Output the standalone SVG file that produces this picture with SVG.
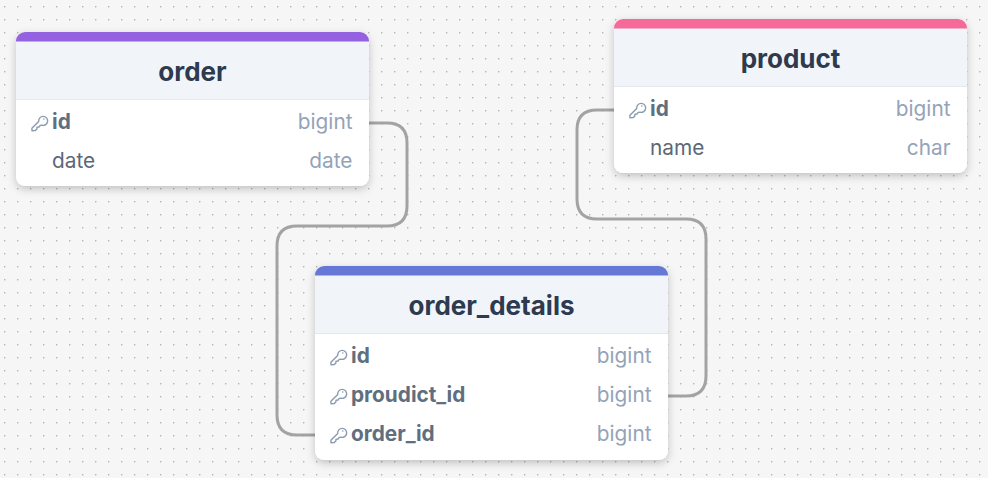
<svg xmlns="http://www.w3.org/2000/svg" width="988" height="478" viewBox="0 0 988 478">
<style>
text{font-family:Inter,"Liberation Sans",sans-serif}
.card{fill:#fff;filter:url(#sh)}
.head{fill:#f1f5f9}
.sep{stroke:#e2e8f0;stroke-width:1}
.title{font-size:26px;font-weight:700;fill:#2d3a50;text-anchor:middle}
.k{font-size:20.800px;font-weight:700;fill:#5f6f80}
.f{font-size:20.800px;fill:#5a6878}
.t{font-size:20.800px;fill:#94a3b8;text-anchor:end}
.conn{fill:none;stroke:#a3a3a3;stroke-width:3}
.key{fill:none;stroke:#8a9bae;stroke-width:1.400;stroke-linejoin:round}
</style>
<defs>
<pattern id="dots" x="4" y="6" width="13" height="13" patternUnits="userSpaceOnUse"><circle cx="0.7" cy="0.7" r="0.8" fill="#b4b4b4"/></pattern>
<filter id="sh" x="-10%" y="-10%" width="120%" height="125%"><feDropShadow dx="0" dy="3" stdDeviation="4" flood-color="#000" flood-opacity="0.22"/></filter>
<g id="key"><path class="key" d="M7.700 -0.600A4.500 4.500 0 1 1 11 3.200L9.200 3.400 8 5 6 5.200 5.800 7.200 4 8.600 1 8.700 0.900 6.200Z"/><circle cx="12.800" cy="-3" r="0.800" fill="#8a9bae"/></g>
<clipPath id="c1"><rect x="16" y="32" width="353" height="154" rx="9"/></clipPath>
<clipPath id="c2"><rect x="614" y="19" width="353" height="154" rx="9"/></clipPath>
<clipPath id="c3"><rect x="315" y="266" width="353" height="194" rx="9"/></clipPath>
</defs>
<rect width="988" height="478" fill="#f6f6f6"/>
<rect width="988" height="478" fill="url(#dots)"/>
<g id="connectors">
<path class="conn" d="M369 123H387Q407 123 407 143V206Q407 226 387 226H297Q277 226 277 246V415Q277 435 297 435H315"/>
<path class="conn" d="M614 110H597Q577 110 577 130V199Q577 219 597 219H686Q706 219 706 239V376Q706 396 686 396H668"/>
</g>
<g id="node-order">
<rect class="card" x="16" y="32" width="353" height="154" rx="9"/>
<g clip-path="url(#c1)"><rect class="head" x="16" y="41" width="353" height="58"/><rect x="16" y="32" width="353" height="9.500" fill="#9461e0"/></g>
<path class="sep" d="M16 99.500H369"/>
<text class="title" x="192.500" y="81">order</text>
<use href="#key" x="31" y="122"/>
<text class="k" x="52" y="129">id</text><text class="t" x="352.500" y="129">bigint</text>
<text class="f" x="52" y="168">date</text><text class="t" x="352.500" y="168">date</text>
</g>
<g id="node-product">
<rect class="card" x="614" y="19" width="353" height="154" rx="9"/>
<g clip-path="url(#c2)"><rect class="head" x="614" y="28" width="353" height="58"/><rect x="614" y="19" width="353" height="9.500" fill="#f56a98"/></g>
<path class="sep" d="M614 86.500H967"/>
<text class="title" x="790.500" y="68">product</text>
<use href="#key" x="629" y="109"/>
<text class="k" x="650" y="116">id</text><text class="t" x="950.500" y="116">bigint</text>
<text class="f" x="650" y="155">name</text><text class="t" x="950.500" y="155">char</text>
</g>
<g id="node-order_details">
<rect class="card" x="315" y="266" width="353" height="194" rx="9"/>
<g clip-path="url(#c3)"><rect class="head" x="315" y="275" width="353" height="58"/><rect x="315" y="266" width="353" height="9.500" fill="#6678d6"/></g>
<path class="sep" d="M315 333.500H668"/>
<text class="title" x="491.500" y="315">order_details</text>
<use href="#key" x="330" y="356"/>
<text class="k" x="351" y="363">id</text><text class="t" x="651.500" y="363">bigint</text>
<use href="#key" x="330" y="395"/>
<text class="k" x="351" y="402">proudict_id</text><text class="t" x="651.500" y="402">bigint</text>
<use href="#key" x="330" y="434"/>
<text class="k" x="351" y="441">order_id</text><text class="t" x="651.500" y="441">bigint</text>
</g>
</svg>
